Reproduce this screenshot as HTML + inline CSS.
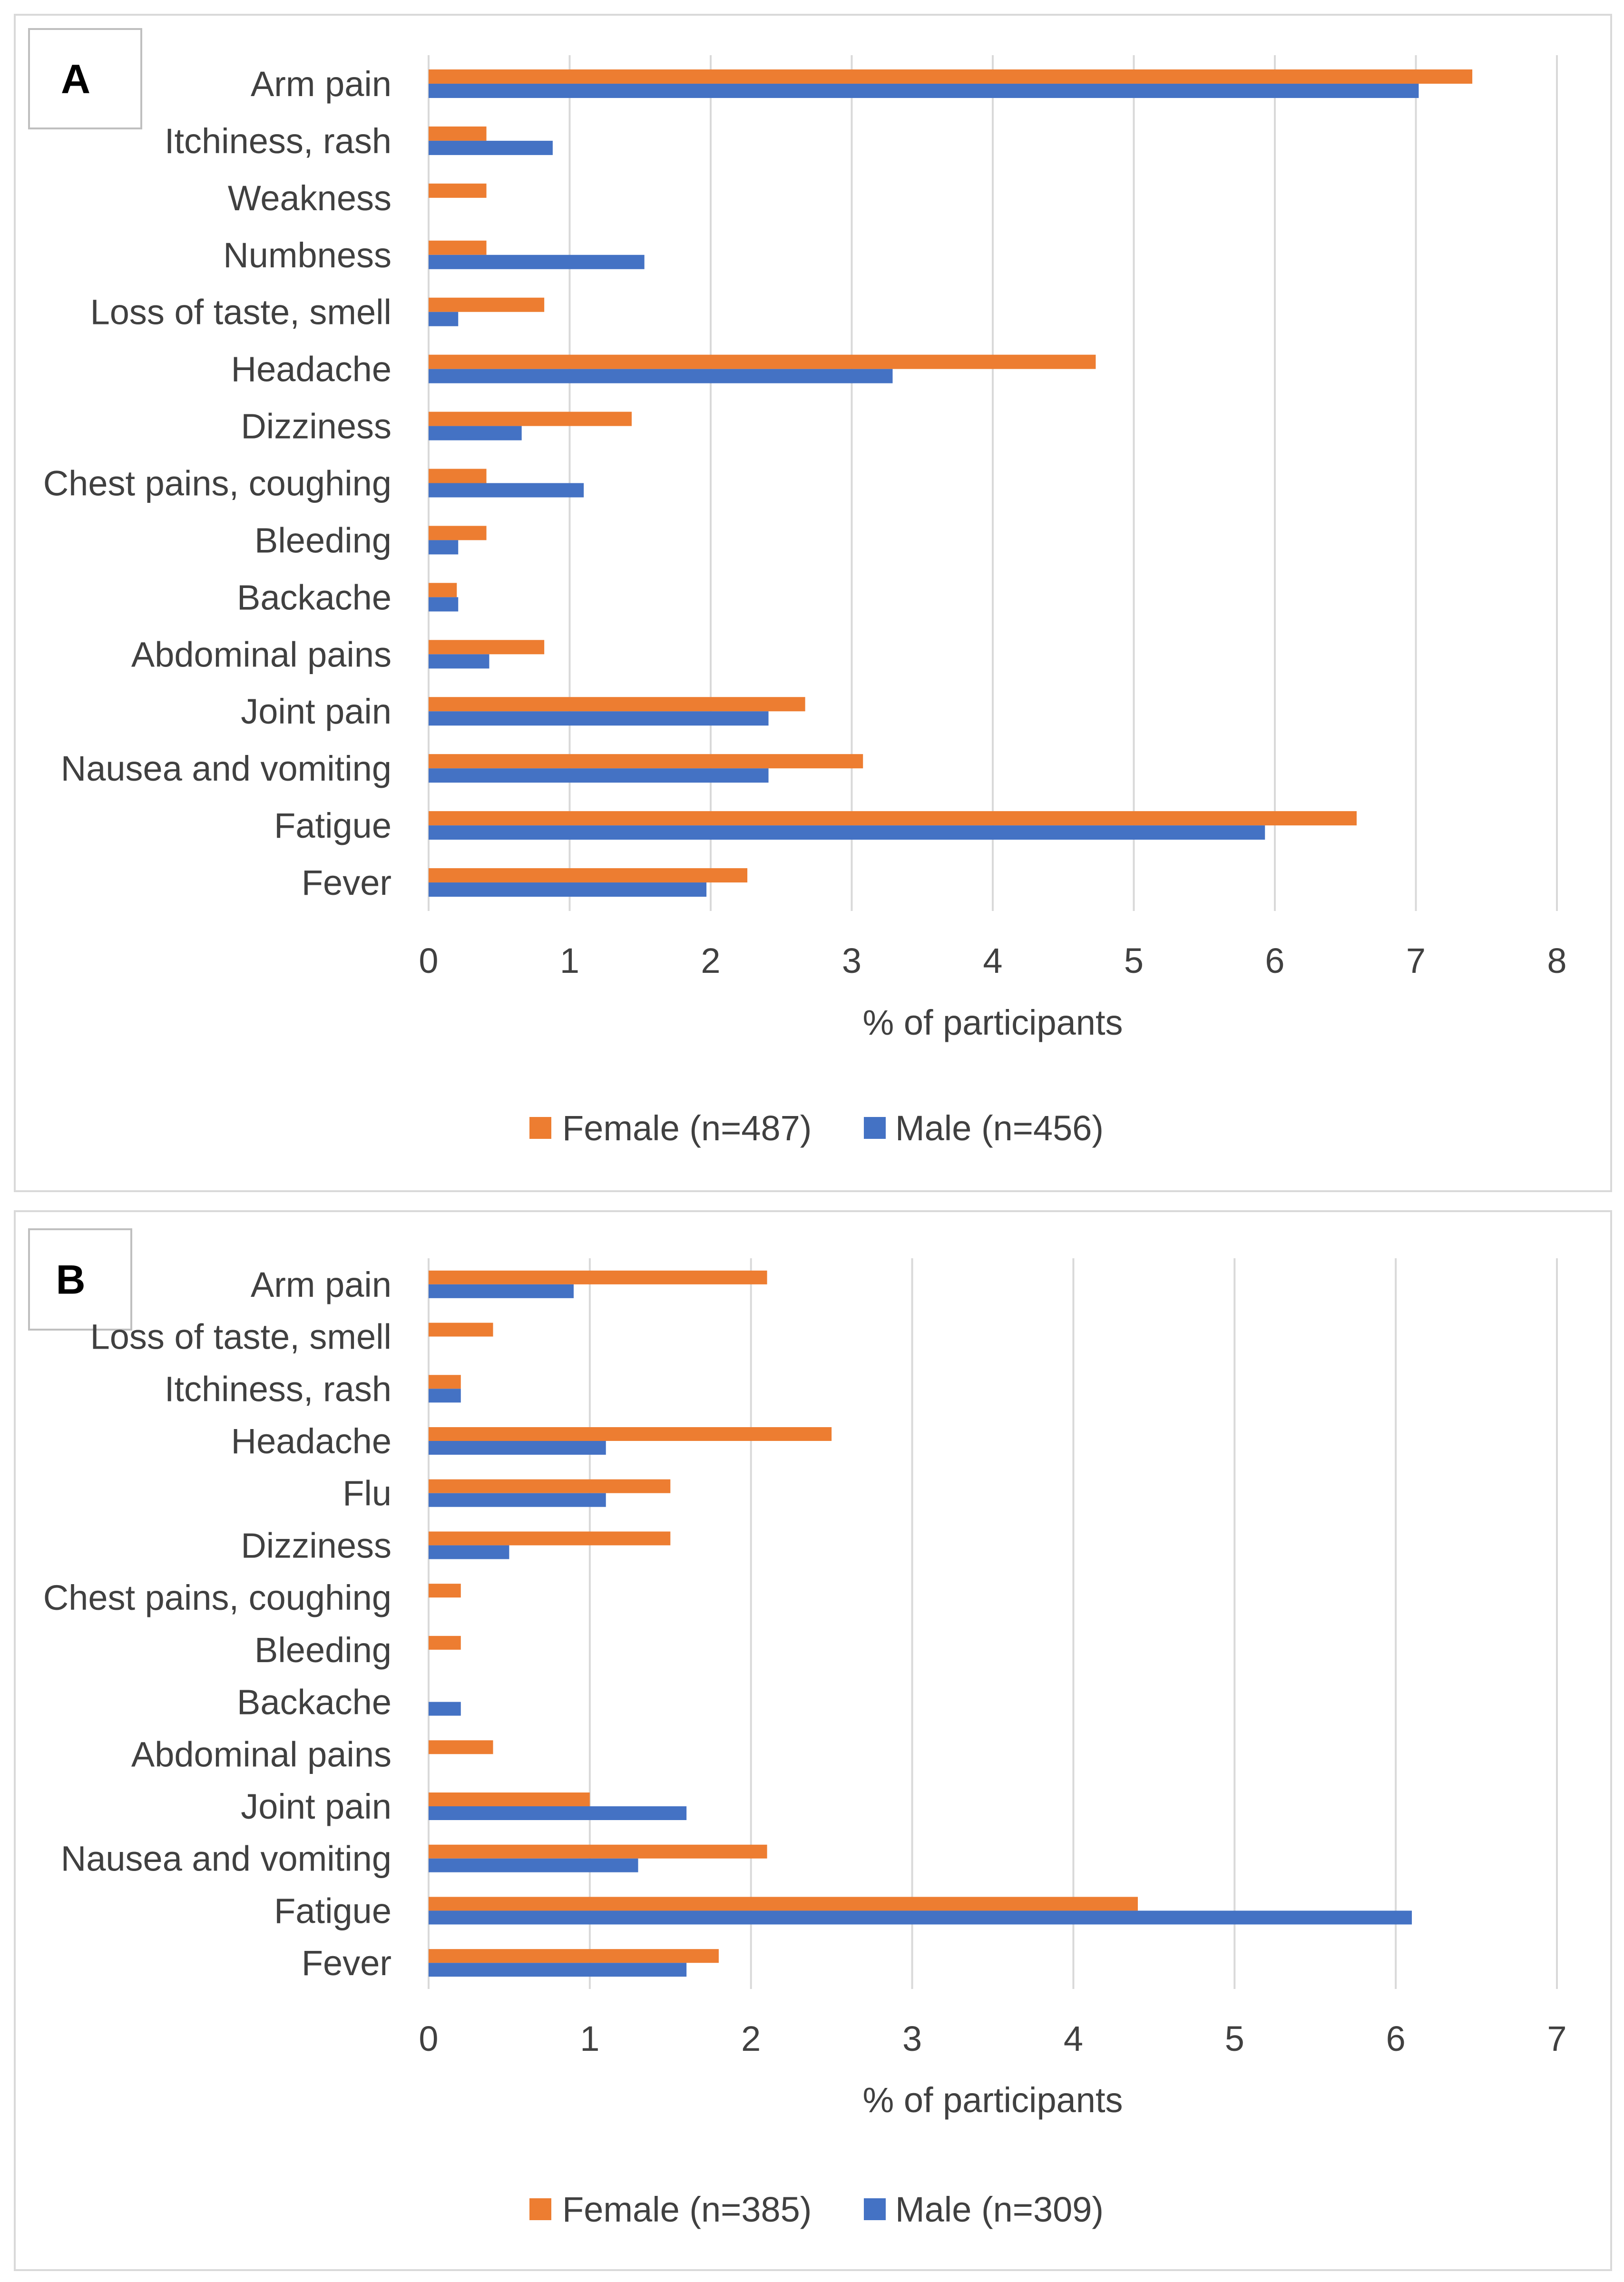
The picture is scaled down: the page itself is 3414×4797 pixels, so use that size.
<!DOCTYPE html>
<html><head><meta charset="utf-8"><style>
html,body{margin:0;padding:0;background:#fff}
svg{display:block}
text{font-family:"Liberation Sans",sans-serif}
</style></head><body>
<svg id="chart" width="3414" height="4797" viewBox="0 0 3414 4797" xmlns="http://www.w3.org/2000/svg"></svg>
<script>
const catsA = ["Arm pain","Itchiness, rash","Weakness","Numbness","Loss of taste, smell","Headache","Dizziness","Chest pains, coughing","Bleeding","Backache","Abdominal pains","Joint pain","Nausea and vomiting","Fatigue","Fever"];
const femaleA = [7.40,0.41,0.41,0.41,0.82,4.73,1.44,0.41,0.41,0.20,0.82,2.67,3.08,6.58,2.26];
const maleA = [7.02,0.88,0,1.53,0.21,3.29,0.66,1.10,0.21,0.21,0.43,2.41,2.41,5.93,1.97];
const ticksA = [0,1,2,3,4,5,6,7,8];
const catsB = ["Arm pain","Loss of taste, smell","Itchiness, rash","Headache","Flu","Dizziness","Chest pains, coughing","Bleeding","Backache","Abdominal pains","Joint pain","Nausea and vomiting","Fatigue","Fever"];
const femaleB = [2.1,0.4,0.2,2.5,1.5,1.5,0.2,0.2,0,0.4,1.0,2.1,4.4,1.8];
const maleB = [0.9,0,0.2,1.1,1.1,0.5,0,0,0.2,0,1.6,1.3,6.1,1.6];
const ticksB = [0,1,2,3,4,5,6,7];
const legendA = ["Female (n=487)","Male (n=456)"];
const legendB = ["Female (n=385)","Male (n=309)"];

const NS="http://www.w3.org/2000/svg";
const svg=document.getElementById('chart');
const TXT='#404040';
function mk(tag,attrs,parent){const e=document.createElementNS(NS,tag);for(const k in attrs)e.setAttribute(k,attrs[k]);(parent||svg).appendChild(e);return e;}

function panel(cfg){
  const g=mk('g',{});
  
  
  const fr=mk('rect',{x:31,y:cfg.top,width:3356,height:cfg.bottom-cfg.top,fill:'#fff',stroke:'#D9D9D9','stroke-width':4},g);
  
  
  const bx=mk('rect',{x:61,y:cfg.boxY,width:cfg.boxW,height:cfg.boxH,fill:'#fff',stroke:'#BFBFBF','stroke-width':4},g);
  
  
  const lt=mk('text',{x:61+cfg.boxW/2-20,y:cfg.boxY+cfg.boxH/2+30,'font-size':86,'font-weight':'bold',fill:'#000','text-anchor':'middle'},g);
  lt.textContent=cfg.letter;
  
  
  const x0=901,x1=3273,max=cfg.ticks[cfg.ticks.length-1];
  const xs=v=>x0+(x1-x0)*v/max;
  const n=cfg.cats.length,rowH=(cfg.gBot-cfg.gTop)/n;
  const yc=i=>cfg.gTop+rowH*(i+0.5);
  cfg.ticks.forEach(t=>{
    const l=mk('line',{x1:xs(t),x2:xs(t),y1:cfg.gTop,y2:cfg.gBot,stroke:'#D9D9D9','stroke-width':4},g);
    
    
    const tx=mk('text',{x:xs(t),y:cfg.tickY+26,'font-size':74,fill:TXT,'text-anchor':'middle'},g);
    tx.textContent=t;
    
    
  });
  cfg.cats.forEach((c,i)=>{
    const tx=mk('text',{x:823,y:yc(i)+26,'font-size':74,fill:TXT,'text-anchor':'end'},g);
    tx.textContent=c;
    
    
    const bf=mk('rect',{x:x0,y:yc(i)-cfg.barH,width:Math.max(0,xs(cfg.f[i])-x0),height:cfg.barH,fill:'#ED7D31'},g);
    
    
    const bm=mk('rect',{x:x0,y:yc(i),width:Math.max(0,xs(cfg.m[i])-x0),height:cfg.barH,fill:'#4472C4'},g);
    
    
  });
  const at=mk('text',{x:2087,y:cfg.titleY+26,'font-size':74,fill:TXT,'text-anchor':'middle'},g);
  at.textContent='% of participants';
  
  
  const ly=cfg.legY;
  const s1=mk('rect',{x:1113,y:ly-23,width:46,height:46,fill:'#ED7D31'},g);
  
  
  const t1=mk('text',{x:1182,y:ly+26,'font-size':74,fill:TXT},g);
  t1.textContent=cfg.legend[0];
  
  
  const s2=mk('rect',{x:1816,y:ly-23,width:46,height:46,fill:'#4472C4'},g);
  
  
  const t2=mk('text',{x:1882,y:ly+26,'font-size':74,fill:TXT},g);
  t2.textContent=cfg.legend[1];
  
  
}
panel({letter:'A',top:31,bottom:2504,boxY:61,boxW:236,boxH:209,cats:catsA,f:femaleA,m:maleA,ticks:ticksA,gTop:116,gBot:1915,barH:30,tickY:2019,titleY:2149,legY:2371,legend:legendA});
panel({letter:'B',top:2546,bottom:4772,boxY:2584,boxW:215,boxH:211,cats:catsB,f:femaleB,m:maleB,ticks:ticksB,gTop:2645,gBot:4181,barH:29,tickY:4285,titleY:4414,legY:4644,legend:legendB});
</script>
</body></html>
